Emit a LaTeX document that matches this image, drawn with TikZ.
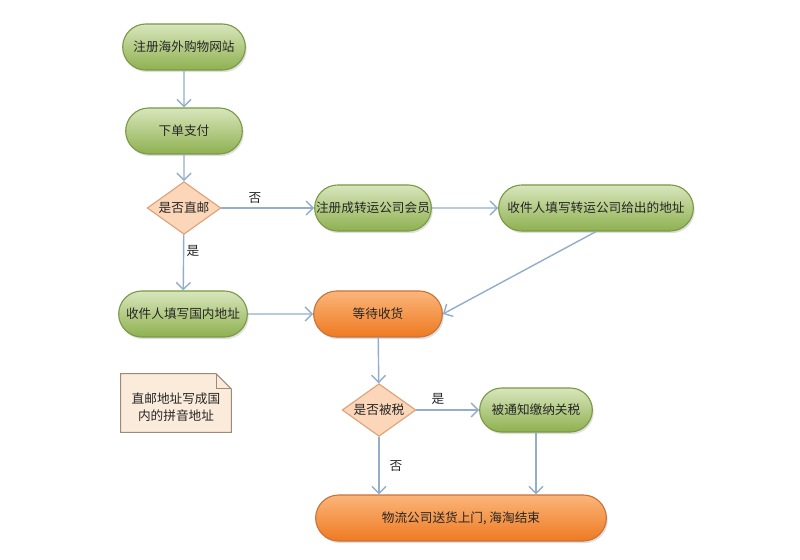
\documentclass[tikz,border=0pt]{standalone}
\usepackage{fontspec}
\setmainfont{Noto Sans CJK SC}
\usetikzlibrary{arrows.meta,shapes.geometric,shapes.misc,shadows}
\definecolor{grntop}{HTML}{D8E6BC}
\definecolor{grnbot}{HTML}{8FB050}
\definecolor{grnline}{HTML}{7A9A45}
\definecolor{orgtop}{HTML}{FBB57A}
\definecolor{orgbot}{HTML}{EE7A22}
\definecolor{orgline}{HTML}{C8743A}
\definecolor{decfill}{HTML}{FBD6B8}
\definecolor{decline}{HTML}{DDA27A}
\definecolor{notefill}{HTML}{FBEBDB}
\definecolor{noteline}{HTML}{9D8B78}
\definecolor{flowline}{HTML}{93AECB}
\tikzset{
  stepbox/.style={rounded rectangle, draw=grnline, line width=0.8pt,
    top color=grntop, bottom color=grnbot, minimum height=1.15cm,
    drop shadow={opacity=0.25, shadow xshift=1pt, shadow yshift=-1.5pt},
    font=\fontsize{9}{11}\selectfont, text=black!85},
  waitbox/.style={stepbox, draw=orgline, top color=orgtop, bottom color=orgbot},
  choice/.style={diamond, draw=decline, fill=decfill, line width=0.8pt, aspect=1.4,
    inner sep=1pt, font=\fontsize{9}{11}\selectfont, text=black!85},
  flow/.style={draw=flowline, line width=1pt, -{Straight Barb[length=5pt,width=10pt]}},
  answer/.style={font=\fontsize{9}{11}\selectfont, text=black!85}
}
\begin{document}
\begin{tikzpicture}[x=0.025cm, y=-0.025cm]
        \useasboundingbox[fill=white] (0,0) rectangle (800,559);

        \node[stepbox, minimum width=3.3cm] (site) at (184,47) {注册海外购物网站};
        \node[stepbox, minimum width=3.15cm] (pay) at (184,131) {下单支付};
        \node[choice] (direct) at (184,208) {是否直邮};
        \node[stepbox, minimum width=3.15cm] (member) at (373,208) {注册成转运公司会员};
        \node[stepbox, minimum width=5.1cm] (fwdaddr) at (596,208) {收件人填写转运公司给出的地址};
        \node[stepbox, minimum width=3.45cm] (homeaddr) at (183,314) {收件人填写国内地址};
        \node[waitbox, minimum width=3.45cm] (wait) at (378,314) {等待收货};
        \node[choice] (taxed) at (379,410) {是否被税};
        \node[stepbox, minimum width=3.05cm, minimum height=1.1cm] (duty) at (536,410) {被通知缴纳关税};
        \node[waitbox, minimum width=7.5cm] (done) at (461,518) {物流公司送货上门, 海淘结束};

        % note with folded corner
        \node[minimum width=2.75cm, minimum height=1.45cm, align=center,
              font=\fontsize{9}{11}\selectfont, text=black!85] (memo) at (176,403) {};
        \filldraw[fill=notefill, draw=noteline, line width=0.7pt]
          (memo.south west) -- (memo.north west) -- ([xshift=-0.38cm]memo.north east)
          -- ([yshift=-0.38cm]memo.north east) -- (memo.south east) -- cycle;
        \draw[noteline, line width=0.7pt] ([xshift=-0.38cm]memo.north east)
          -- ([xshift=-0.38cm, yshift=-0.38cm]memo.north east) -- ([yshift=-0.38cm]memo.north east);
        \node[align=center, font=\fontsize{9}{12}\selectfont, text=black!85] at ([yshift=-0.1cm]memo.center) {直邮地址写成国\\内的拼音地址};

        \draw[flow] (site) -- (pay);
        \draw[flow] (pay) -- (direct);
        \draw[flow] (direct) -- (member);
        \draw[flow] (member) -- (fwdaddr);
        \draw[flow] (direct) -- (homeaddr);
        \draw[flow] (homeaddr) -- (wait);
        \draw[flow] (fwdaddr.south) -- (wait.east);
        \draw[flow] (wait) -- (taxed);
        \draw[flow] (taxed) -- (duty);
        \draw[flow] (taxed.south) -- (taxed.south |- done.north);
        \draw[flow] (duty.south) -- (duty.south |- done.north);

        \node[answer] (no1) at (255,198) {否};
        \node[answer] (yes1) at (193,251) {是};
        \node[answer] (yes2) at (438,399) {是};
        \node[answer] (no2) at (396,466) {否};
    \end{tikzpicture}
\end{document}
